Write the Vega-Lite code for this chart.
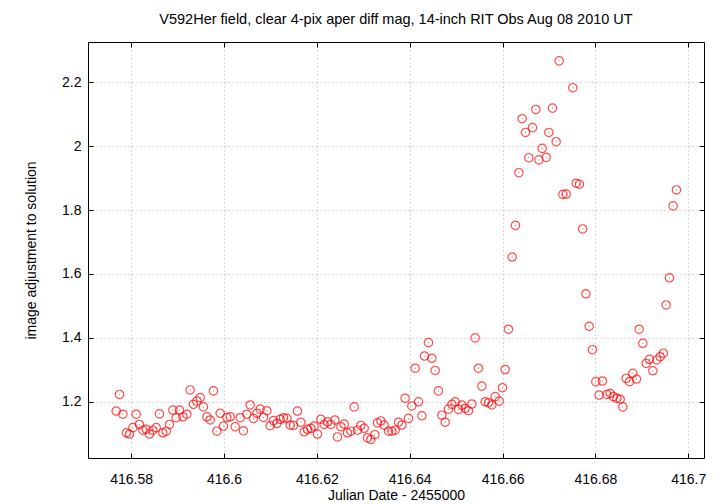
{
  "$schema": "https://vega.github.io/schema/vega-lite/v6.json",
  "width": 616,
  "height": 416,
  "autosize": {"type": "none"},
  "padding": {"left": 88, "top": 42, "right": 16, "bottom": 46},
  "background": "white",
  "title": {"text": "V592Her field, clear 4-pix aper diff mag, 14-inch RIT Obs Aug 08 2010 UT", "font": "Liberation Sans", "fontSize": 14.5, "fontWeight": "normal", "color": "black", "anchor": "middle", "offset": 14},
  "config": {
    "view": {"stroke": "black", "strokeWidth": 1},
    "font": "Liberation Sans"
  },
  "data": {"values": [
    {"jd": 416.57748, "adj": 1.223}, {"jd": 416.57677, "adj": 1.171}, {"jd": 416.57821, "adj": 1.161}, {"jd": 416.57899, "adj": 1.103},
    {"jd": 416.57963, "adj": 1.099}, {"jd": 416.58108, "adj": 1.161}, {"jd": 416.58037, "adj": 1.119}, {"jd": 416.58179, "adj": 1.129},
    {"jd": 416.58252, "adj": 1.111}, {"jd": 416.58323, "adj": 1.114}, {"jd": 416.58394, "adj": 1.099}, {"jd": 416.58467, "adj": 1.111},
    {"jd": 416.58539, "adj": 1.119}, {"jd": 416.58610, "adj": 1.162}, {"jd": 416.58683, "adj": 1.103}, {"jd": 416.58754, "adj": 1.108},
    {"jd": 416.58825, "adj": 1.129}, {"jd": 416.58898, "adj": 1.174}, {"jd": 416.58969, "adj": 1.150}, {"jd": 416.59040, "adj": 1.174},
    {"jd": 416.59114, "adj": 1.153}, {"jd": 416.59200, "adj": 1.161}, {"jd": 416.59271, "adj": 1.237}, {"jd": 416.59342, "adj": 1.192},
    {"jd": 416.59415, "adj": 1.202}, {"jd": 416.59486, "adj": 1.213}, {"jd": 416.59557, "adj": 1.184}, {"jd": 416.59631, "adj": 1.153},
    {"jd": 416.59702, "adj": 1.143}, {"jd": 416.59773, "adj": 1.234}, {"jd": 416.59846, "adj": 1.108}, {"jd": 416.59917, "adj": 1.164},
    {"jd": 416.59988, "adj": 1.124}, {"jd": 416.60061, "adj": 1.151}, {"jd": 416.60133, "adj": 1.153}, {"jd": 416.60240, "adj": 1.122},
    {"jd": 416.60348, "adj": 1.150}, {"jd": 416.60419, "adj": 1.109}, {"jd": 416.60492, "adj": 1.161}, {"jd": 416.60563, "adj": 1.190},
    {"jd": 416.60634, "adj": 1.148}, {"jd": 416.60708, "adj": 1.164}, {"jd": 416.60779, "adj": 1.177}, {"jd": 416.60850, "adj": 1.151},
    {"jd": 416.60923, "adj": 1.172}, {"jd": 416.60994, "adj": 1.125}, {"jd": 416.61065, "adj": 1.141}, {"jd": 416.61138, "adj": 1.132},
    {"jd": 416.61210, "adj": 1.145}, {"jd": 416.61281, "adj": 1.150}, {"jd": 416.61354, "adj": 1.148}, {"jd": 416.61425, "adj": 1.127},
    {"jd": 416.61496, "adj": 1.126}, {"jd": 416.61582, "adj": 1.171}, {"jd": 416.61656, "adj": 1.136}, {"jd": 416.61727, "adj": 1.106},
    {"jd": 416.61798, "adj": 1.114}, {"jd": 416.61871, "adj": 1.117}, {"jd": 416.61942, "adj": 1.124}, {"jd": 416.62013, "adj": 1.099},
    {"jd": 416.62086, "adj": 1.145}, {"jd": 416.62158, "adj": 1.129}, {"jd": 416.62229, "adj": 1.137}, {"jd": 416.62302, "adj": 1.129},
    {"jd": 416.62388, "adj": 1.143}, {"jd": 416.62444, "adj": 1.090}, {"jd": 416.62517, "adj": 1.122}, {"jd": 416.62588, "adj": 1.130},
    {"jd": 416.62659, "adj": 1.103}, {"jd": 416.62733, "adj": 1.108}, {"jd": 416.62804, "adj": 1.184}, {"jd": 416.62875, "adj": 1.111},
    {"jd": 416.62948, "adj": 1.126}, {"jd": 416.63019, "adj": 1.117}, {"jd": 416.63090, "adj": 1.087}, {"jd": 416.63163, "adj": 1.082},
    {"jd": 416.63249, "adj": 1.097}, {"jd": 416.63306, "adj": 1.134}, {"jd": 416.63379, "adj": 1.140}, {"jd": 416.63450, "adj": 1.127},
    {"jd": 416.63543, "adj": 1.108}, {"jd": 416.63616, "adj": 1.108}, {"jd": 416.63687, "adj": 1.111}, {"jd": 416.63758, "adj": 1.136},
    {"jd": 416.63831, "adj": 1.127}, {"jd": 416.63902, "adj": 1.211}, {"jd": 416.63973, "adj": 1.148}, {"jd": 416.64046, "adj": 1.187},
    {"jd": 416.64118, "adj": 1.305}, {"jd": 416.64189, "adj": 1.200}, {"jd": 416.64262, "adj": 1.156}, {"jd": 416.64318, "adj": 1.343},
    {"jd": 416.64404, "adj": 1.385}, {"jd": 416.64477, "adj": 1.336}, {"jd": 416.64548, "adj": 1.298}, {"jd": 416.64619, "adj": 1.234},
    {"jd": 416.64692, "adj": 1.158}, {"jd": 416.64764, "adj": 1.136}, {"jd": 416.64835, "adj": 1.177}, {"jd": 416.64908, "adj": 1.192},
    {"jd": 416.64980, "adj": 1.200}, {"jd": 416.65051, "adj": 1.176}, {"jd": 416.65124, "adj": 1.190}, {"jd": 416.65195, "adj": 1.179},
    {"jd": 416.65266, "adj": 1.172}, {"jd": 416.65339, "adj": 1.193}, {"jd": 416.65410, "adj": 1.400}, {"jd": 416.65481, "adj": 1.305},
    {"jd": 416.65554, "adj": 1.249}, {"jd": 416.65626, "adj": 1.200}, {"jd": 416.65697, "adj": 1.197}, {"jd": 416.65770, "adj": 1.190},
    {"jd": 416.65841, "adj": 1.216}, {"jd": 416.65927, "adj": 1.202}, {"jd": 416.65998, "adj": 1.244}, {"jd": 416.66056, "adj": 1.301},
    {"jd": 416.66127, "adj": 1.427}, {"jd": 416.66207, "adj": 1.653}, {"jd": 416.66279, "adj": 1.752}, {"jd": 416.66352, "adj": 1.917},
    {"jd": 416.66423, "adj": 2.086}, {"jd": 416.66494, "adj": 2.043}, {"jd": 416.66567, "adj": 1.964}, {"jd": 416.66645, "adj": 2.058},
    {"jd": 416.66718, "adj": 2.115}, {"jd": 416.66783, "adj": 1.957}, {"jd": 416.66854, "adj": 1.993}, {"jd": 416.66940, "adj": 1.965},
    {"jd": 416.66998, "adj": 2.043}, {"jd": 416.67076, "adj": 2.119}, {"jd": 416.67155, "adj": 2.014}, {"jd": 416.67220, "adj": 2.267},
    {"jd": 416.67300, "adj": 1.849}, {"jd": 416.67371, "adj": 1.850}, {"jd": 416.67515, "adj": 2.183}, {"jd": 416.67586, "adj": 1.884},
    {"jd": 416.67657, "adj": 1.881}, {"jd": 416.67726, "adj": 1.741}, {"jd": 416.67795, "adj": 1.538}, {"jd": 416.67866, "adj": 1.436},
    {"jd": 416.67937, "adj": 1.363}, {"jd": 416.68010, "adj": 1.263}, {"jd": 416.68081, "adj": 1.221}, {"jd": 416.68152, "adj": 1.265},
    {"jd": 416.68247, "adj": 1.223}, {"jd": 416.68318, "adj": 1.226}, {"jd": 416.68389, "adj": 1.216}, {"jd": 416.68463, "adj": 1.211},
    {"jd": 416.68534, "adj": 1.208}, {"jd": 416.68592, "adj": 1.184}, {"jd": 416.68663, "adj": 1.273}, {"jd": 416.68734, "adj": 1.263},
    {"jd": 416.68807, "adj": 1.289}, {"jd": 416.68885, "adj": 1.271}, {"jd": 416.68943, "adj": 1.427}, {"jd": 416.69022, "adj": 1.383},
    {"jd": 416.69094, "adj": 1.320}, {"jd": 416.69165, "adj": 1.333}, {"jd": 416.69238, "adj": 1.297}, {"jd": 416.69324, "adj": 1.331},
    {"jd": 416.69395, "adj": 1.341}, {"jd": 416.69466, "adj": 1.352}, {"jd": 416.69524, "adj": 1.503}, {"jd": 416.69596, "adj": 1.588},
    {"jd": 416.69675, "adj": 1.813}, {"jd": 416.69746, "adj": 1.863}
  ]},
  "layer": [
    {
      "mark": {"type": "point", "shape": "circle", "filled": false, "color": "#ff0000", "size": 70, "strokeWidth": 1.2},
      "encoding": {
        "x": {"field": "jd", "type": "quantitative",
          "scale": {"domain": [416.5707, 416.7034], "nice": false, "zero": false},
          "axis": {"orient": "bottom", "title": "Julian Date - 2455000", "values": [416.58, 416.6, 416.62, 416.64, 416.66, 416.68, 416.7],
            "format": ".5~r", "grid": true, "gridColor": "#b0b0b0", "gridDash": [1, 3], "gridWidth": 1,
            "domain": false, "ticks": true, "tickSize": -5, "tickColor": "black", "labelPadding": 19,
            "labelFont": "Liberation Sans", "labelFontSize": 14, "labelColor": "black",
            "titleFont": "Liberation Sans", "titleFontSize": 14, "titleFontWeight": "normal", "titleColor": "black", "titlePadding": 2}},
        "y": {"field": "adj", "type": "quantitative",
          "scale": {"domain": [1.024, 2.326], "nice": false, "zero": false},
          "axis": {"orient": "left", "title": "image adjustment to solution", "values": [1.2, 1.4, 1.6, 1.8, 2.0, 2.2],
            "format": "~g", "grid": true, "gridColor": "#b0b0b0", "gridDash": [1, 3], "gridWidth": 1,
            "domain": false, "ticks": true, "tickSize": -5, "tickColor": "black", "labelPadding": 12,
            "labelFont": "Liberation Sans", "labelFontSize": 14, "labelColor": "black",
            "titleFont": "Liberation Sans", "titleFontSize": 14, "titleFontWeight": "normal", "titleColor": "black", "titlePadding": 23}}
      }
    },
    {
      "mark": {"type": "point", "shape": "circle", "filled": true, "color": "#ff0000", "size": 1.5, "opacity": 0.6},
      "encoding": {
        "x": {"field": "jd", "type": "quantitative",
          "axis": {"orient": "top", "title": null, "labels": false, "grid": false, "domain": false, "ticks": true, "tickSize": -5, "tickColor": "black", "values": [416.58, 416.6, 416.62, 416.64, 416.66, 416.68, 416.7]}},
        "y": {"field": "adj", "type": "quantitative",
          "axis": {"orient": "right", "title": null, "labels": false, "grid": false, "domain": false, "ticks": true, "tickSize": -5, "tickColor": "black", "values": [1.2, 1.4, 1.6, 1.8, 2.0, 2.2]}}
      }
    }
  ],
  "resolve": {"axis": {"x": "independent", "y": "independent"}}
}
